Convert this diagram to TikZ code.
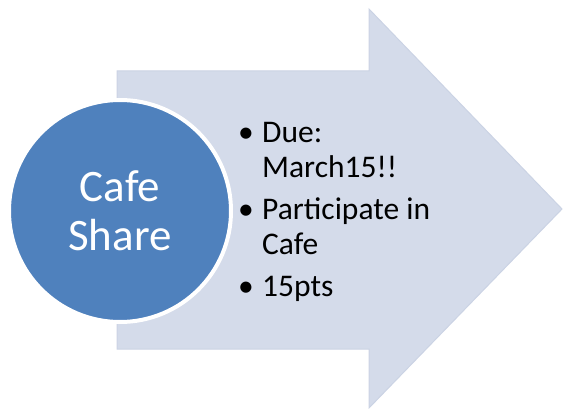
\documentclass[tikz,border=0pt]{standalone}
\usepackage{fontspec}
\setmainfont{Carlito}
\usepackage{xcolor}
\usetikzlibrary{positioning}
\definecolor{arrowfill}{RGB}{212,219,234}
\definecolor{arrowline}{RGB}{203,211,228}
\definecolor{cafeblue}{RGB}{79,129,189}

\begin{document}
\begin{tikzpicture}[x=1pt,y=-1pt]
        \useasboundingbox (0,0) rectangle (563,409);

        \draw [fill=arrowfill, draw=arrowline, line width=1pt] (117,71) -- (369,71) -- (369,9) -- (562,209) -- (369,408) -- (369,349) -- (117,349) -- cycle;

        \node [circle, draw=white, line width=4pt, fill=cafeblue, minimum size=222pt, inner sep=0pt, text=white, align=center, font=\fontsize{45}{49}\selectfont] (cafe) at (120,211) {Cafe\\Share};

        \node [anchor=base west, inner sep=0pt, font=\fontsize{31.5}{35}\selectfont] (points) at (238,143) {%
            \begin{tabular}[t]{@{}p{24pt}@{}l@{}}
                \textbullet & Due:\\
                & March15!!\\[7pt]
                \textbullet & Participate in\\
                & Cafe\\[7pt]
                \textbullet & 15pts
            \end{tabular}};
\end{tikzpicture}
\end{document}
